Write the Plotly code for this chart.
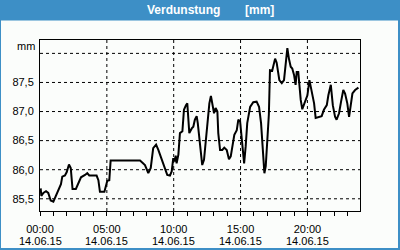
import plotly.graph_objects as go

times = ["00:03","00:06","00:15","00:27","00:37","00:48","01:00","01:07","01:22","01:34",
         "01:40","01:52","02:00","02:10","02:18","02:26","02:41","02:52","03:04","03:22",
         "03:32","03:41","04:14","04:22","04:29","04:49","04:56","05:02","05:11","05:17",
         "07:29","07:51","08:06","08:17","08:28","08:41","08:51","09:06","09:21","09:31",
         "09:43","09:51","09:58","10:03","10:09","10:13","10:21","10:28","10:39","10:46",
         "10:55","11:01","11:05","11:10","11:21","11:28","11:35","11:43","11:48","11:58",
         "12:08","12:16","12:28","12:40","12:47","12:53","13:01","13:08","13:16","13:20",
         "13:28","13:38","13:47","13:58","14:08","14:16","14:23","14:32","14:43","14:50",
         "14:58","15:02","15:08","15:16","15:23","15:30","15:43","15:57","16:12","16:23",
         "16:32","16:42","16:47","16:53","17:00","17:07","17:12","17:22","17:35","17:42",
         "17:54","18:05","18:15","18:24","18:30","18:37","18:45","18:52","19:00","19:07",
         "19:12","19:19","19:24","19:30","19:37","19:49","20:00","20:09","20:19","20:30",
         "20:37","20:49","21:04","21:14","21:27","21:34","21:45","21:54","22:04","22:11",
         "22:22","22:31","22:41","22:49","22:59","23:07","23:14","23:22","23:34","23:49"]
values = [85.68,85.55,85.60,85.63,85.60,85.47,85.45,85.51,85.66,85.75,
          85.88,85.90,85.96,86.09,86.03,85.67,85.67,85.77,85.87,85.91,
          85.94,85.90,85.90,85.82,85.62,85.62,85.71,85.81,85.82,86.16,
          86.16,86.08,85.94,86.03,86.37,86.43,86.34,86.17,86.00,85.91,
          85.90,85.97,86.20,86.14,86.24,86.11,86.26,86.63,86.66,87.03,
          87.11,87.14,86.91,86.63,86.71,86.74,86.86,86.92,86.80,86.40,
          86.08,86.17,86.68,87.14,87.27,87.11,86.97,87.06,87.00,86.63,
          86.34,86.34,86.38,86.34,86.18,86.23,86.40,86.60,86.68,86.86,
          86.83,86.66,86.40,86.11,86.40,86.80,87.08,87.16,87.17,87.08,
          86.80,86.23,85.94,86.06,86.51,86.95,87.71,87.70,87.91,87.84,
          87.54,87.49,87.54,87.83,88.09,87.91,87.77,87.74,87.63,87.46,
          87.68,87.68,87.43,87.20,87.04,87.17,87.28,87.54,87.37,87.14,
          86.89,86.90,86.92,87.03,87.11,87.28,87.46,87.11,86.91,86.86,
          86.97,87.17,87.37,87.31,87.14,86.91,87.08,87.31,87.37,87.41]
date = "2015-06-14"
x_tick_hours = ["00:00", "05:00", "10:00", "15:00", "20:00"]
x_tick_date = "14.06.15"
y_ticks = [85.5, 86.0, 86.5, 87.0, 87.5]
y_grid = [85.5, 86.0, 86.5, 87.0, 87.5, 88.0]
title_text = "Verdunstung"
unit_text = "[mm]"
unit_axis = "mm"

BLUE = "#3d8fc6"
BG = "#fbfdfb"
FONT = "Liberation Sans"

xs = [f"{date} {t}" for t in times]

fig = go.Figure()
fig.add_trace(go.Scatter(x=xs, y=values, mode="lines",
                         line=dict(color="black", width=2), hoverinfo="skip"))

W, H = 400, 250
L, R, T, B = 40, 40, 40, 39
pw, ph = W - L - R, H - T - B

def px(x):
    return (x - L) / pw

def py(y):
    return (H - B - y) / ph

shapes = [
    dict(type="rect", xref="paper", yref="paper", x0=px(0), x1=px(400), y0=py(20.5), y1=py(0),
         fillcolor=BLUE, line=dict(width=0), layer="below"),
    dict(type="rect", xref="paper", yref="paper", x0=px(0), x1=px(1), y0=py(250), y1=py(0),
         fillcolor=BLUE, line=dict(width=0), layer="below"),
    dict(type="rect", xref="paper", yref="paper", x0=px(398), x1=px(400), y0=py(250), y1=py(0),
         fillcolor=BLUE, line=dict(width=0), layer="below"),
    dict(type="rect", xref="paper", yref="paper", x0=px(0), x1=px(400), y0=py(250), y1=py(248),
         fillcolor=BLUE, line=dict(width=0), layer="below"),
]
for v in y_grid:
    shapes.append(dict(type="line", xref="paper", yref="y", x0=0, x1=1, y0=v, y1=v,
                       line=dict(color="black", width=1, dash="3px,3px"), layer="below"))
for t in x_tick_hours[1:]:
    shapes.append(dict(type="line", xref="x", yref="paper", x0=f"{date} {t}", x1=f"{date} {t}",
                       y0=0, y1=1, line=dict(color="black", width=1, dash="3px,3px"), layer="below"))

annotations = [
    dict(text=f"<b>{title_text}</b>", xref="paper", yref="paper", x=px(183), y=py(10.5),
         xanchor="center", yanchor="middle", showarrow=False,
         font=dict(family=FONT, size=12, color="white")),
    dict(text=f"<b>{unit_text}</b>", xref="paper", yref="paper", x=px(259), y=py(10.5),
         xanchor="center", yanchor="middle", showarrow=False,
         font=dict(family=FONT, size=12, color="white")),
    dict(text=unit_axis, xref="paper", yref="paper", x=px(37), y=py(46.5),
         xanchor="right", yanchor="middle", showarrow=False,
         font=dict(family=FONT, size=11, color="black")),
]
for t in x_tick_hours:
    annotations.append(dict(text=x_tick_date, xref="x", yref="paper", x=f"{date} {t}", y=py(240.5),
                            xanchor="center", yanchor="middle", showarrow=False,
                            font=dict(family=FONT, size=11, color="black")))

fig.update_layout(
    width=W, height=H, margin=dict(l=L, r=R, t=T, b=B, pad=0),
    paper_bgcolor=BG, plot_bgcolor=BG, showlegend=False,
    separators=",.",
    shapes=shapes, annotations=annotations,
    font=dict(family=FONT, size=11, color="black"),
)
fig.update_xaxes(
    type="date", range=[f"{date} 00:00", f"{date} 23:56"],
    showgrid=False, zeroline=False,
    showline=True, linecolor="black", linewidth=1, mirror=True,
    tickmode="array", tickvals=[f"{date} {t}" for t in x_tick_hours],
    ticktext=x_tick_hours,
    ticks="outside", ticklen=4, tickcolor="black", tickwidth=1,
    ticklabelstandoff=4,
    minor=dict(dtick=3600000, ticks="outside", ticklen=4, tickcolor="black", showgrid=False),
    tickfont=dict(family=FONT, size=11, color="black"),
)
fig.update_yaxes(
    range=[85.29, 88.23], showgrid=False, zeroline=False,
    showline=True, linecolor="black", linewidth=1, mirror=True,
    tickmode="array", tickvals=y_ticks, tickformat=".1f",
    ticks="", ticklabelstandoff=3,
    tickfont=dict(family=FONT, size=11, color="black"),
)
fig.write_html("out.html")
